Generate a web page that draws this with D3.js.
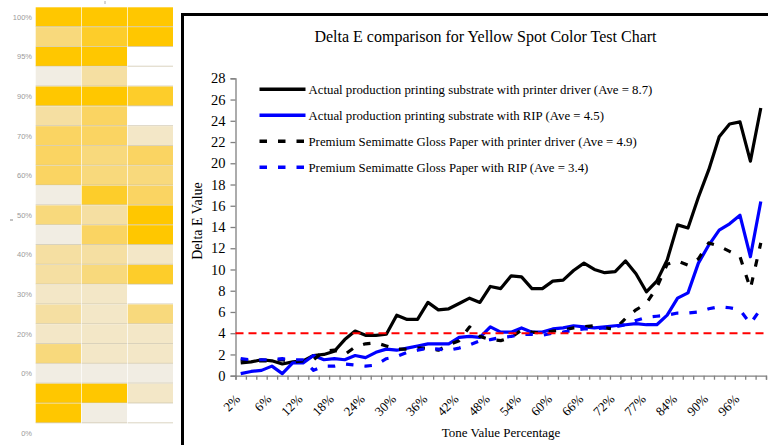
<!DOCTYPE html>
<html><head><meta charset="utf-8">
<script src="https://cdn.jsdelivr.net/npm/d3@7/dist/d3.min.js"></script>
<style>
html,body{margin:0;padding:0;background:#fff;overflow:hidden;}
svg{display:block;font-family:"Liberation Serif","Times New Roman",serif;}
</style></head><body>
<svg id="c" width="768" height="445"></svg>
<script>
// ---------- data ----------
const categories = ["2%","3%","4%","6%","8%","10%","12%","14%","16%","18%","20%","22%","24%","26%","28%","30%","32%","34%","36%","38%","40%","42%","44%","46%","48%","50%","52%","54%","56%","58%","60%","62%","64%","66%","68%","70%","72%","74%","76%","77%","80%","82%","84%","86%","88%","90%","92%","94%","96%","98%","100%"];
const tickLabels = ["2%","6%","12%","18%","24%","30%","36%","42%","48%","54%","60%","66%","72%","77%","84%","90%","96%"];
const yTicks = [0,2,4,6,8,10,12,14,16,18,20,22,24,26,28];

const prodDriver = [1.2,1.3,1.5,1.4,1.1,1.3,1.4,1.9,2.0,2.3, 3.4,4.2,3.8,3.8,3.9,5.7,5.3,5.3,6.9,6.2, 6.3,6.8,7.3,6.9,8.4,8.2,9.4,9.3,8.2,8.2, 8.9,9.0,9.9,10.6,10.0,9.7,9.8,10.8,9.6,7.9, 8.9,10.9,14.2,13.9,16.8,19.4,22.5,23.7,23.9,20.2, 25.2];
const prodRip = [0.2,0.4,0.5,0.9,0.2,1.2,1.2,1.9,1.5,1.6, 1.5,1.9,1.7,2.2,2.5,2.4,2.6,2.8,3.0,3.0, 3.0,3.6,3.7,3.6,4.6,4.1,4.1,4.5,4.1,4.1, 4.4,4.5,4.7,4.6,4.5,4.6,4.7,4.8,4.9,4.8, 4.8,5.7,7.3,7.8,10.6,12.3,13.7,14.3,15.1,11.2, 16.4];
const glossDriver = [1.5,1.4,1.4,1.4,1.5,1.3,1.4,1.5,2.3,2.4, 2.0,2.7,3.0,3.1,2.8,2.5,2.5,2.6,2.6,2.4, 2.9,3.3,4.6,3.7,3.4,3.3,3.6,4.3,4.1,4.0, 4.2,4.3,4.5,4.6,4.7,4.5,4.4,5.4,6.2,6.8, 8.3,10.5,10.8,10.4,11.0,12.5,12.2,11.7,11.2,8.2, 12.5];
const glossRip = [1.6,1.5,1.5,1.5,1.6,1.5,1.5,0.5,0.9,0.9, 1.1,1.0,0.9,1.0,1.6,1.8,2.2,2.4,2.6,2.5, 2.4,2.6,2.9,3.3,3.4,3.6,3.7,3.9,3.9,3.8, 4.0,4.1,4.3,4.4,4.4,4.5,4.6,4.8,5.2,5.5, 5.6,5.7,5.9,5.9,6.0,6.3,6.5,6.4,6.2,4.9, 6.3];
const seriesNames = [
  "Actual production printing substrate with printer driver (Ave = 8.7)",
  "Actual production printing substrate with RIP (Ave = 4.5)",
  "Premium Semimatte Gloss Paper with printer driver (Ave = 4.9)",
  "Premium Semimatte Gloss Paper with RIP (Ave = 3.4)"
];
const threshold = 4;
const chartTitle = "Delta E comparison for Yellow Spot Color Test Chart";
const xTitle = "Tone Value Percentage";
const yTitle = "Delta E Value";

// swatch panel (tone level of each patch, -1 = empty)
const swatchLevels = [
  [6,6,6],[3,5,6],[6,6,-1],[0,2,-1],[6,6,5],[2,4,-1],[4,4,1],[4,3,4],[4,3,3],[0,5,4],
  [3,2,6],[0,4,6],[2,2,1],[2,3,5],[1,1,-1],[2,1,3],[1,1,1],[3,1,1],[0,0,0],[6,6,1],[6,0,-1]
];
const swatchLabels = ["100%","95%","90%","70%","60%","50%","40%","30%","20%","0%","0%"];
const swatchLabelRows = [0,2,4,6,8,10,12,14,16,18,21];

// ---------- drawing ----------
const svg = d3.select("#c");

// left swatch panel
const sw = svg.append("g");
const colX = d3.scaleBand().domain([0,1,2]).range([35.7,173]).paddingInner(0.015);
const rowY = d3.scaleBand().domain(d3.range(21)).range([7.3,423.3]);
const levelColor = d3.scaleOrdinal().domain([0,1,2,3,4,5,6])
  .range(["#f1ede3","#f3e7c7","#f5dfa2","#f8d97c","#fad462","#fdcd2a","#ffc700"]);
swatchLevels.forEach((row,r)=>{
  row.forEach((lv,c)=>{
    if(lv>=0){
      sw.append("rect").attr("x",colX(c)).attr("y",rowY(r))
        .attr("width",colX.bandwidth()).attr("height",rowY.bandwidth()-0.6)
        .attr("fill",levelColor(lv));
    }
    sw.append("line").attr("x1",colX(c)).attr("x2",colX(c)+colX.bandwidth())
      .attr("y1",rowY(r)+rowY.bandwidth()-0.5).attr("y2",rowY(r)+rowY.bandwidth()-0.5)
      .attr("stroke","#c7bd9f").attr("stroke-width",0.8).attr("opacity",0.8);
  });
});
sw.selectAll("text.sl").data(swatchLabels).join("text")
  .attr("x",32).attr("y",(d,i)=>rowY.step()*swatchLabelRows[i]+7.3+rowY.step()/2+2.5)
  .attr("text-anchor","end").attr("font-family","Liberation Sans, Arial, sans-serif")
  .attr("font-size",7.5).attr("fill","#9a9a9a").text(d=>d);
sw.append("line").attr("x1",105).attr("x2",105).attr("y1",1).attr("y2",4).attr("stroke","#aaa");
sw.append("line").attr("x1",10).attr("x2",13).attr("y1",220).attr("y2",220).attr("stroke","#888");

// chart frame
svg.append("rect").attr("x",182.5).attr("y",14.5).attr("width",620).attr("height",460)
  .attr("fill","#fff").attr("stroke","#000").attr("stroke-width",3);

const L = 235.5, R = 766, T = 78.3, B = 375.7;
const x = d3.scaleBand().domain(categories).range([L,R]).padding(0);
const xb = d3.scaleLinear().domain([0,categories.length]).range([L,R]);
const y = d3.scaleLinear().domain([0,28]).range([B,T]);

// title
svg.append("text").attr("x",485.5).attr("y",42).attr("text-anchor","middle")
  .attr("font-size",16).text(chartTitle);

// y axis
const gy = svg.append("g").attr("transform",`translate(${L},0)`)
  .call(d3.axisLeft(y).tickValues(yTicks).tickSize(5).tickPadding(5).tickFormat(d3.format("d")));
gy.select(".domain").attr("stroke","#808080").attr("stroke-width",1.3);
gy.selectAll(".tick line").attr("stroke","#808080").attr("stroke-width",1.3);
gy.selectAll(".tick text").attr("font-family","Liberation Serif, Times New Roman, serif")
  .attr("font-size",14.5).attr("fill","#000");

// x axis : tick marks at category boundaries
const gxt = svg.append("g").attr("transform",`translate(0,${B})`)
  .call(d3.axisBottom(xb).tickValues(d3.range(0,categories.length+1)).tickSize(4).tickFormat(""));
gxt.select(".domain").attr("stroke","#808080").attr("stroke-width",1.3);
gxt.selectAll(".tick line").attr("stroke","#808080").attr("stroke-width",1.3);
// x labels
const gx = svg.append("g").attr("transform",`translate(0,${B})`)
  .call(d3.axisBottom(x).tickSize(0).tickFormat(d=>tickLabels.includes(d)?d:""));
gx.select(".domain").remove();
gx.selectAll(".tick text").attr("font-family","Liberation Serif, Times New Roman, serif")
  .attr("font-size",13).attr("fill","#000")
  .attr("text-anchor","end").attr("y",0).attr("dy","0.35em")
  .attr("transform","translate(-3,21) rotate(-45)");

// axis titles
svg.append("text").attr("x",501).attr("y",437).attr("text-anchor","middle")
  .attr("font-size",13).text(xTitle);
svg.append("text").attr("transform","translate(202,221) rotate(-90)")
  .attr("text-anchor","middle").attr("font-size",14).text(yTitle);

// series
const line = d3.line().x((d,i)=>x(categories[i])+x.bandwidth()/2).y(d=>y(d));
const styles = [
  {color:"#000",dash:null},
  {color:"#0000ff",dash:null},
  {color:"#000",dash:"7.5,11"},
  {color:"#0000ff",dash:"7.5,11"}
];
const allSeries = [prodDriver, prodRip, glossDriver, glossRip];
allSeries.forEach((s,k)=>{
  svg.append("path").datum(s).attr("d",line).attr("fill","none")
    .attr("stroke",styles[k].color).attr("stroke-width",3.2)
    .attr("stroke-linejoin","round")
    .attr("stroke-dasharray",styles[k].dash);
});
// threshold
svg.append("line").attr("x1",L).attr("x2",R).attr("y1",y(threshold)).attr("y2",y(threshold))
  .attr("stroke","#ff0000").attr("stroke-width",2).attr("stroke-dasharray","8,5");

// legend
const legY = d3.scalePoint().domain(seriesNames).range([89.3,167.3]);
const lg = svg.append("g");
seriesNames.forEach((n,k)=>{
  lg.append("line").attr("x1",259.5).attr("x2",305.5).attr("y1",legY(n)).attr("y2",legY(n))
    .attr("stroke",styles[k].color).attr("stroke-width",3.4).attr("stroke-dasharray",styles[k].dash);
  lg.append("text").attr("x",308.5).attr("y",legY(n)).attr("dy","0.35em")
    .attr("font-size",12.8).text(n);
});
</script>
</body></html>
